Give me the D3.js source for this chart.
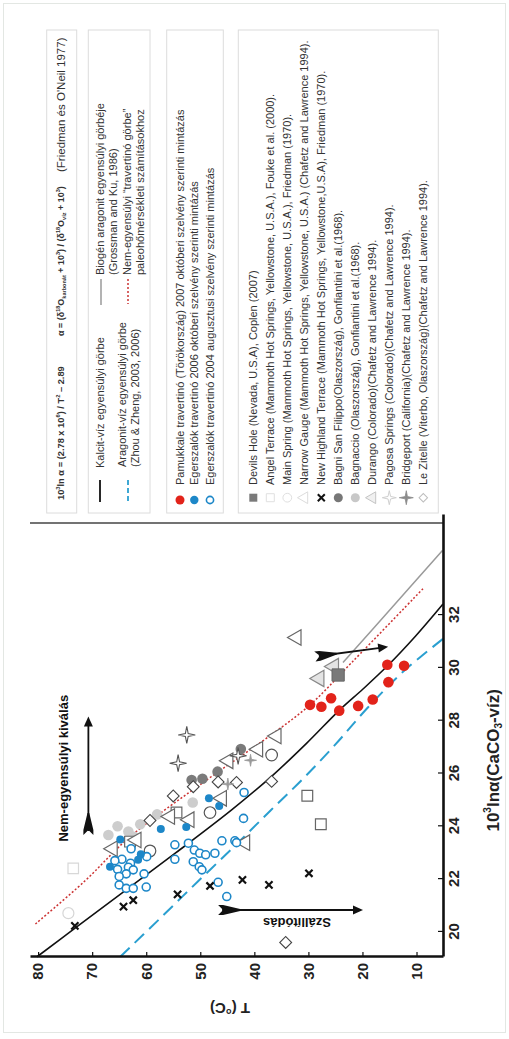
<!DOCTYPE html>
<html>
<head>
<meta charset="utf-8">
<script src="https://cdn.jsdelivr.net/npm/d3@7"></script>
<style>
  body { margin: 0; background: #fff; }
  svg { display: block; }
  text { font-family: "Liberation Sans", Arial, sans-serif; }
</style>
</head>
<body>
<svg id="fig" width="509" height="1039"></svg>
<script>
// ---- data: [10^3 ln α, T (°C)] ----
const lnTicks = [20, 22, 24, 26, 28, 30, 32];
const tTicks = [10, 20, 30, 40, 50, 60, 70, 80];

const calciteCurve = [[19.06,80.2],[20.2,72.8],[21.52,64.2],[23.0,54.5],[24.62,44.2],[25.95,36.5],[27.15,30.3],[28.41,24.2],[29.2,19.9],[30.05,15.5],[31.2,10.2],[32.42,5.1]];
const aragoniteCurve = [[19.06,64.8],[20.5,57.5],[21.9,50.5],[23.3,43.4],[24.6,37.0],[25.8,31.0],[27.1,25.0],[28.5,19.0],[29.85,12.5],[31.1,5.1]];
const travertineCurve = [[20.3,80.5],[21.9,71.5],[23.6,63.0],[25.8,48.5],[27.3,38.0],[28.6,29.7],[30.2,22.0],[33.0,8.8]];
const biogenicCurve = [[30.2,23.6],[32.3,14.5],[34.45,5.2]];

const pamukkale = [[28.6,29.7],[28.53,27.6],[28.85,25.8],[28.38,24.3],[28.56,20.8],[28.8,18.1],[30.12,15.4],[29.46,15.2],[30.08,12.3]];
const egerszalok2006 = [[23.5,64.8],[23.9,57.3],[23.97,52.6],[25.06,48.4],[24.77,46.5],[22.94,61.0],[22.73,61.5],[22.47,66.7]];
const egerszalok2004 = [[23.15,62.8],[22.75,64.5],[22.7,65.8],[22.6,62.9],[22.45,63.3],[22.37,65.3],[22.35,62.4],[22.2,63.7],[22.1,65.0],[22.85,59.9],[22.2,60.4],[21.78,65.0],[21.65,63.7],[21.65,62.4],[21.7,60.0],
  [23.3,54.7],[22.75,54.7],[23.36,52.2],[23.1,51.1],[22.66,51.3],[22.47,50.2],[22.98,50.1],[22.92,49.0],[22.35,49.7],[22.98,47.3],[23.45,46.0],[23.45,43.6],[23.38,43.3],[24.3,42.0],[25.28,41.9],[21.88,46.7],[21.34,45.1]];
const devilsHole = [[29.73,24.5]];
const angelTerrace = [[24.52,54.4],[23.42,63.0],[25.16,30.2],[24.08,27.7]];
const angelTerraceLight = [[22.41,73.5]];
const mainSpring = [[23.07,59.3],[24.52,48.2],[26.7,36.8]];
const mainSpringLight = [[20.71,74.4]];
const narrowGauge = [[29.6,28.0],[30.05,25.3]];
const newHighland = [[20.23,73.2],[20.96,64.2],[21.2,62.4],[21.42,54.2],[21.74,48.2],[21.97,42.2],[21.78,37.3],[22.22,29.9]];
const bagniSanFilippo = [[25.75,51.6],[25.8,49.6],[26.07,46.8],[26.93,42.5]];
const bagnaccio = [[23.67,67.0],[24.0,65.3],[23.8,63.3],[23.6,62.3],[24.08,61.1],[24.45,58.0],[24.9,51.4]];
const durango = [[23.15,66.2],[23.48,61.8],[24.37,55.6],[24.25,52.0],[25.06,46.0],[26.48,44.8],[26.92,39.3],[27.42,35.9],[23.38,41.7],[31.15,32.2]];
const pagosa = [[27.46,52.5],[26.39,54.1],[26.67,43.0]];
const bridgeport = [[26.5,40.7],[25.6,44.9]];
const leZitelle = [[24.22,59.3],[25.15,55.0],[25.5,51.3],[25.68,46.7],[25.66,43.3],[25.7,36.8],[19.6,34.2]];

// annotation arrows (tail -> head) and their labels
const arrowKivalas = [[23.67,70.7],[28.16,70.7]];
const arrowSzallitodas = [[20.83,46.7],[20.83,19.9]];
const arrowShift = [[30.43,28.8],[30.8,15.25]];
const labelKivalas = [26.2,75.3];
const labelSzallitodas = [20.35,32.1];

// legend texts
const formulaNote = "(Friedman és O'Neil 1977)";
const curveLabels = [
  ["Kalcit-víz egyensúlyi görbe"],
  ["Aragonit-víz egyensúlyi görbe", "(Zhou & Zheng, 2003, 2006)"],
  ["Biogén aragonit egyensúlyi görbéje", "(Grossman and Ku, 1986)"],
  ["Nem-egyensúlyi “travertinó görbe”", "paleohőmérsékleti számításokhoz"]
];
const sampleLabels = [
  "Pamukkale travertinó (Törökország)  2007 októberi szelvény szerinti mintázás",
  "Egerszalók travertinó 2006 októberi szelvény szerinti mintázás",
  "Egerszalók travertinó 2004 augusztusi szelvény szerinti mintázás"
];
const siteLabels = [
  "Devils Hole (Nevada, U.S.A), Coplen (2007)",
  "Angel Terrace (Mammoth Hot Springs, Yellowstone, U.S.A.), Fouke et al. (2000).",
  "Main Spring (Mammoth Hot Springs, Yellowstone, U.S.A.), Friedman (1970).",
  "Narrow Gauge (Mammoth Hot Springs, Yellowstone, U.S.A.) (Chafetz and Lawrence 1994).",
  "New Highland Terrace (Mammoth Hot Springs, Yellowstone,U.S.A), Friedman (1970).",
  "Bagni San Filippo(Olaszország), Gonfiantini et al.(1968).",
  "Bagnaccio (Olaszország), Gonfiantini et al.(1968).",
  "Durango (Colorado)(Chafetz and Lawrence 1994).",
  "Pagosa Springs (Colorado)(Chafetz and Lawrence 1994).",
  "Bridgeport (California)(Chafetz and Lawrence 1994).",
  "Le Zitelle (Viterbo, Olaszország)(Chafetz and Lawrence 1994)."
];

// ---- colours ----
const RED = "#e2231a", BLUE = "#1d87c8", DASHBLUE = "#2a9fd0", DOTRED = "#cc3333";

const svg = d3.select("#fig");
svg.append("rect").attr("x", 3.5).attr("y", 3.5).attr("width", 502).attr("height", 1029)
  .attr("fill", "none").attr("stroke", "#e3e7e3");

// ---- plot (drawn in its own frame, turned a quarter turn) ----
const W = 442, H = 413;
const plot = svg.append("g").attr("transform", "translate(30,957) rotate(-90)");
const x = d3.scaleLinear().domain([19.05, 35.79]).range([0, W]);
const y = d3.scaleLinear().domain([5.1, 81.5]).range([H, 0]);

// right frame line
plot.append("line").attr("x1", W - 8).attr("x2", W - 8).attr("y1", 0).attr("y2", H)
  .attr("stroke", "#444").attr("stroke-width", 1.6);

// curves
const line = d3.line().x(d => x(d[0])).y(d => y(d[1])).curve(d3.curveCatmullRom);
plot.append("path").attr("d", line(biogenicCurve)).attr("fill", "none").attr("stroke", "#9a9a9a").attr("stroke-width", 1.5);
plot.append("path").attr("d", line(travertineCurve)).attr("fill", "none").attr("stroke", DOTRED).attr("stroke-width", 1.5).attr("stroke-dasharray", "2,2");
plot.append("path").attr("d", line(aragoniteCurve)).attr("fill", "none").attr("stroke", DASHBLUE).attr("stroke-width", 2).attr("stroke-dasharray", "13,7");
plot.append("path").attr("d", line(calciteCurve)).attr("fill", "none").attr("stroke", "#111").attr("stroke-width", 1.6);

// marker helpers (local frame)
const px = d => x(d[0]), py = d => y(d[1]);
function circles(data, r, fill, stroke, sw) {
  plot.append("g").selectAll("circle").data(data).join("circle")
    .attr("cx", px).attr("cy", py).attr("r", r)
    .attr("fill", fill).attr("stroke", stroke).attr("stroke-width", sw || 0);
}
function symbols(data, type, size, fill, stroke, sw, rot) {
  plot.append("g").selectAll("path").data(data).join("path")
    .attr("d", d3.symbol(type, size)())
    .attr("transform", d => `translate(${px(d)},${py(d)}) rotate(${rot || 0})`)
    .attr("fill", fill).attr("stroke", stroke).attr("stroke-width", sw);
}
function star4(R, r) {
  const p = [];
  for (let i = 0; i < 8; i++) {
    const a = Math.PI / 4 * i - Math.PI / 2, rr = i % 2 ? r : R;
    p.push([Math.cos(a) * rr, Math.sin(a) * rr]);
  }
  return "M" + p.map(q => q.join(",")).join("L") + "Z";
}
function stars(data, R, r, fill, stroke, sw) {
  plot.append("g").selectAll("path").data(data).join("path")
    .attr("d", star4(R, r)).attr("transform", d => `translate(${px(d)},${py(d)})`)
    .attr("fill", fill).attr("stroke", stroke).attr("stroke-width", sw);
}
function crosses(data, s, color, sw) {
  const g = plot.append("g").attr("stroke", color).attr("stroke-width", sw);
  data.forEach(d => {
    g.append("path").attr("d", `M${px(d)-s},${py(d)-s}L${px(d)+s},${py(d)+s}M${px(d)-s},${py(d)+s}L${px(d)+s},${py(d)-s}`);
  });
}

circles(mainSpringLight, 5.5, "none", "#d6d6d6", 1.2);
symbols(angelTerraceLight, d3.symbolSquare, 110, "none", "#d8d8d8", 1.2);
circles(bagnaccio, 5.3, "#cdcdcd", "none");
circles(bagniSanFilippo, 5.3, "#7b7b7b", "none");
symbols(leZitelle, d3.symbolSquare, 70, "#fff", "#444", 1.1, 45);
symbols(angelTerrace, d3.symbolSquare, 115, "#fff", "#666", 1.2);
symbols(durango, d3.symbolTriangle, 105, "#fff", "#666", 1.2);
symbols(narrowGauge, d3.symbolTriangle, 115, "#e4e4e4", "#888", 1.2);
circles(mainSpring, 5.8, "none", "#555", 1.2);
stars(pagosa, 8.5, 2, "#fff", "#555", 1.1);
stars(bridgeport, 6, 1.3, "#999", "#999", 0.8);
symbols(devilsHole, d3.symbolSquare, 150, "#7a7a7a", "#666", 1);
circles(egerszalok2004, 4, "#fff", BLUE, 1.6);
circles(egerszalok2006, 4, BLUE, "none");
crosses(newHighland, 3.6, "#111", 2.2);
circles(pamukkale, 5.3, RED, "none");

// arrows with fletched tails
function arrow(pts) {
  const [a, b] = pts.map(d => [x(d[0]), y(d[1])]);
  const dx = b[0] - a[0], dy = b[1] - a[1], len = Math.hypot(dx, dy);
  const ux = dx / len, uy = dy / len, nx = -uy, ny = ux;
  const P = (s, t) => [a[0] + ux * s + nx * t, a[1] + uy * s + ny * t];
  const g = plot.append("g");
  g.append("line").attr("x1", P(4, 0)[0]).attr("y1", P(4, 0)[1])
    .attr("x2", P(len - 8, 0)[0]).attr("y2", P(len - 8, 0)[1])
    .attr("stroke", "#111").attr("stroke-width", 1.8);
  g.append("polygon").attr("points", [P(len, 0), P(len - 10, 4.5), P(len - 10, -4.5)].map(p => p.join(",")).join(" "))
    .attr("fill", "#111");
  g.append("polygon").attr("points",
    [P(22, 0.9), P(5, 5), P(0, 5), P(5, 0), P(0, -5), P(5, -5), P(22, -0.9)].map(p => p.join(",")).join(" "))
    .attr("fill", "#111");
}
arrow(arrowKivalas);
arrow(arrowSzallitodas);
arrow(arrowShift);

plot.append("text").attr("x", x(labelKivalas[0])).attr("y", y(labelKivalas[1]))
  .attr("text-anchor", "middle").attr("dominant-baseline", "central")
  .attr("font-size", 13).attr("font-weight", "bold").attr("fill", "#111")
  .text("Nem-egyensúlyi kiválás");
plot.append("text")
  .attr("transform", `translate(${x(labelSzallitodas[0])},${y(labelSzallitodas[1])}) rotate(-90)`)
  .attr("text-anchor", "middle").attr("dominant-baseline", "central")
  .attr("font-size", 13).attr("font-weight", "bold").attr("fill", "#111")
  .text("Szállítódás");

// axes
const xAxis = plot.append("g").attr("transform", `translate(0,${H})`)
  .call(d3.axisBottom(x).tickValues(lnTicks).tickSizeInner(-5).tickSizeOuter(0).tickPadding(5));
const yAxis = plot.append("g")
  .call(d3.axisLeft(y).tickValues(tTicks).tickSizeInner(-5).tickSizeOuter(0).tickPadding(6));
[xAxis, yAxis].forEach(ax => {
  ax.select(".domain").attr("stroke", "#111").attr("stroke-width", 2.6);
  ax.selectAll(".tick line").attr("stroke", "#111").attr("stroke-width", 1.2);
  ax.selectAll(".tick text").attr("font-size", 15).attr("font-weight", "bold").attr("fill", "#222")
    .attr("font-family", "'Liberation Sans', Arial, sans-serif");
});

// axis titles
const xt = plot.append("text").attr("x", x(26.5)).attr("y", H + 50)
  .attr("text-anchor", "middle").attr("dominant-baseline", "central")
  .attr("font-size", 17).attr("font-weight", "bold").attr("fill", "#222");
xt.append("tspan").text("10");
xt.append("tspan").attr("font-size", 10).attr("baseline-shift", "super").text("3");
xt.append("tspan").text("lnα(CaCO");
xt.append("tspan").attr("font-size", 10).attr("baseline-shift", "sub").text("3");
xt.append("tspan").text("-víz)");
plot.append("text").attr("transform", `translate(-51,${y(44.5)}) rotate(-90)`)
  .attr("text-anchor", "middle").attr("dominant-baseline", "central")
  .attr("font-size", 15).attr("font-weight", "bold").attr("fill", "#222")
  .text("T (°C)");

// ---- legend (screen frame, text reading upward) ----
const leg = svg.append("g");
[[46.7, 30], [88.3, 61.7], [166.7, 56.6], [238.3, 200]].forEach(([bx, bw]) => {
  leg.append("rect").attr("x", bx).attr("y", 30).attr("width", bw).attr("height", 483)
    .attr("fill", "none").attr("stroke", "#dcdcdc");
});
function vtext(sx, sy, parts, size, weight, fitLen) {
  const t = leg.append("text").attr("transform", `translate(${sx},${sy}) rotate(-90)`)
    .attr("font-size", size).attr("font-weight", weight || "normal")
    .attr("dominant-baseline", "central").attr("fill", "#333");
  parts.forEach(p => {
    if (typeof p === "string") t.append("tspan").text(p);
    else t.append("tspan").attr("font-size", "0.62em")
      .attr("baseline-shift", p.sup ? "super" : "sub").text(p.t);
  });
  // scale the type so the line spans the space set aside for it
  if (fitLen) {
    const len = t.node().getComputedTextLength();
    if (len > 0) t.attr("font-size", size * fitLen / len);
  }
  return t;
}
vtext(61, 500, ["10", {t: "3", sup: true}, "ln α = (2.78 x 10", {t: "6", sup: true}, ") / T", {t: "2", sup: true}, " – 2.89"], 10, "bold", 134);
vtext(61, 336, ["α = (δ", {t: "18", sup: true}, "O", {t: "karbonát", sub: true}, " + 10", {t: "3", sup: true}, ") / (δ", {t: "18", sup: true}, "O", {t: "víz", sub: true}, " + 10", {t: "3", sup: true}, ")"], 10, "bold", 150);
vtext(61, 172, [formulaNote], 11.5);

// curve legend
const lineSym = (sx, y1, y2, stroke, sw, dash) => leg.append("line")
  .attr("x1", sx).attr("x2", sx).attr("y1", y1).attr("y2", y2)
  .attr("stroke", stroke).attr("stroke-width", sw).attr("stroke-dasharray", dash || null);
lineSym(100, 480, 502, "#111", 1.8);
lineSym(128, 480, 502, DASHBLUE, 1.8, "5,3");
lineSym(101, 279, 305, "#9a9a9a", 1.5);
lineSym(128, 279, 304, DOTRED, 1.5, "2,2");
vtext(100, 468, [curveLabels[0][0]], 11);
vtext(121.5, 467, [curveLabels[1][0]], 11);
vtext(135, 467, [curveLabels[1][1]], 11);
vtext(100, 275, [curveLabels[2][0]], 11);
vtext(113, 275, [curveLabels[2][1]], 11);
vtext(126.5, 275, [curveLabels[3][0]], 11);
vtext(140, 275, [curveLabels[3][1]], 11);

// sample legend
const sampleX = [180, 194.3, 210];
leg.append("circle").attr("cx", sampleX[0]).attr("cy", 500).attr("r", 4.5).attr("fill", RED);
leg.append("circle").attr("cx", sampleX[1]).attr("cy", 500).attr("r", 4.2).attr("fill", BLUE);
leg.append("circle").attr("cx", sampleX[2]).attr("cy", 500).attr("r", 3.6).attr("fill", "#fff").attr("stroke", BLUE).attr("stroke-width", 1.6);
sampleLabels.forEach((s, i) => vtext(sampleX[i], 485, [s], 11));

// site legend
const siteX = siteLabels.map((s, i) => 253.3 + 17 * i);
const sy0 = 497.7;
const symAt = (i, type, size, fill, stroke, sw, rot) => leg.append("path")
  .attr("d", d3.symbol(type, size)())
  .attr("transform", `translate(${siteX[i]},${sy0}) rotate(${rot})`)
  .attr("fill", fill).attr("stroke", stroke).attr("stroke-width", sw);
symAt(0, d3.symbolSquare, 64, "#7a7a7a", "none", 0, 0);
symAt(1, d3.symbolSquare, 64, "none", "#e0e0e0", 1, 0);
symAt(2, d3.symbolCircle, 60, "none", "#e0e0e0", 1, 0);
symAt(3, d3.symbolTriangle, 60, "none", "#dcdcdc", 1, -90);
leg.append("path").attr("d", `M${siteX[4]-3.5},${sy0-3.5}L${siteX[4]+3.5},${sy0+3.5}M${siteX[4]-3.5},${sy0+3.5}L${siteX[4]+3.5},${sy0-3.5}`)
  .attr("stroke", "#111").attr("stroke-width", 2);
symAt(5, d3.symbolCircle, 64, "#777", "none", 0, 0);
symAt(6, d3.symbolCircle, 64, "#c8c8c8", "none", 0, 0);
symAt(7, d3.symbolTriangle, 60, "#f0f0f0", "#c4c4c4", 1, -90);
leg.append("path").attr("d", star4(7, 1.8)).attr("transform", `translate(${siteX[8]},${sy0})`)
  .attr("fill", "#fff").attr("stroke", "#d0d0d0").attr("stroke-width", 1);
leg.append("path").attr("d", star4(7, 1.6)).attr("transform", `translate(${siteX[9]},${sy0})`)
  .attr("fill", "#8a8a8a").attr("stroke", "#8a8a8a").attr("stroke-width", 0.8);
symAt(10, d3.symbolSquare, 36, "#fff", "#bdbdbd", 1, 45);
siteLabels.forEach((s, i) => vtext(siteX[i], 485, [s], 11));
</script>
</body>
</html>
